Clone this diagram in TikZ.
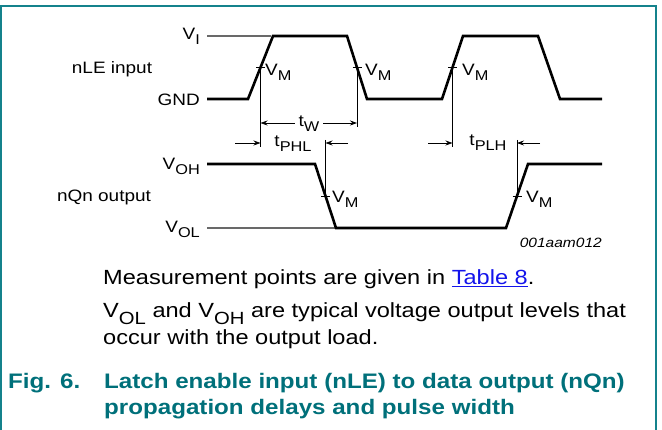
\documentclass[tikz,border=0pt]{standalone}
\usepackage{fontspec}
\usepackage{graphicx}
\setmainfont{Liberation Sans}[FakeStretch=1.15]
\usetikzlibrary{arrows.meta}

\definecolor{frameteal}{RGB}{20,130,140}
\definecolor{capteal}{RGB}{0,112,122}
\definecolor{levelgrey}{RGB}{105,105,105}
\definecolor{linkblue}{RGB}{20,20,235}

\newcommand\lsub[1]{\raisebox{-0.3em}{\scalebox{0.86}{#1}}}
\newcommand\lblfont{\fontsize{16.5}{19}\selectfont}
\newcommand\bodyfont{\fontsize{20.5}{27}\selectfont}
\newcommand\capfont{\fontsize{21}{26}\selectfont\bfseries}

\begin{document}
\begin{tikzpicture}[x=1pt,y=-1pt,
    wave/.style={line width=2.6pt},
    level/.style={draw=levelgrey,line width=1.1pt},
    guide/.style={line width=0.8pt},
    dimarrow/.style={-{Stealth[length=7pt,width=5pt]},line width=0.8pt},
    vmtick/.style={line width=0.8pt}]

  \useasboundingbox (0,0) rectangle (662,430);
  \draw[frameteal,line width=1.6pt] (1,430) -- (1,6) -- (656,6) -- (656,430);

  % VM crossings
  \coordinate (c1) at (260.5,67.5);
  \coordinate (c2) at (357,67.5);
  \coordinate (c3) at (452.5,67.5);
  \coordinate (c4) at (325.5,196);
  \coordinate (c5) at (517,196);

  % levels
  \draw[level] (207,36) -- (271,36);
  \draw[level] (207,228) -- (337,228);

  % waveforms
  \draw[wave] (207,99) -- (248,99) -- (273,36) -- (347,36) -- (367,99)
    -- (442,99) -- (463,36) -- (538,36) -- (560,99) -- (602,99);
  \draw[wave] (207,164) -- (315,164) -- (336,228) -- (506,228)
    -- (528,164) -- (602,164);

  \foreach \c in {c1,c2,c3,c4,c5}
    \draw[vmtick] ([xshift=-4.5pt]\c) -- ([xshift=4.5pt]\c);

  % guide lines
  \coordinate (g1) at (260.5,147);
  \coordinate (g2) at (357,127);
  \coordinate (g3) at (452.5,147);
  \coordinate (g4) at (325.5,140);
  \coordinate (g5) at (517,140);
  \draw[guide] (c1) -- (g1);
  \draw[guide] (c2) -- (g2);
  \draw[guide] (c3) -- (g3);
  \draw[guide] (g4) -- (c4);
  \draw[guide] (g5) -- (c5);

  % dimension arrows
  \coordinate (tw1) at (260.5,123);
  \coordinate (tw2) at (357,123);
  \coordinate (phl1) at (235,143);
  \coordinate (phl2) at (260.5,143);
  \coordinate (phl3) at (348,143);
  \coordinate (phl4) at (325.5,143);
  \coordinate (plh1) at (428,143);
  \coordinate (plh2) at (452.5,143);
  \coordinate (plh3) at (540,143);
  \coordinate (plh4) at (517,143);

  \draw[dimarrow,{Stealth[length=7pt,width=5pt]}-{Stealth[length=7pt,width=5pt]}]
    (tw1) -- (tw2);
  \draw[dimarrow] (phl1) -- (phl2);
  \draw[dimarrow] (phl3) -- (phl4);
  \draw[dimarrow] (plh1) -- (plh2);
  \draw[dimarrow] (plh3) -- (plh4);

  \begin{scope}[every node/.style={inner sep=0pt,font=\lblfont}]
    \node[anchor=base east] (vi)  at (200,40)  {V\lsub{I}};
    \node[anchor=base]      (nle) at (112,74)  {nLE input};
    \node[anchor=base east] (gnd) at (200,106) {GND};
    \node[anchor=base east] (voh) at (200,170) {V\lsub{OH}};
    \node[anchor=base]      (nqn) at (104,202) {nQn output};
    \node[anchor=base east] (vol) at (200,233) {V\lsub{OL}};

    \node[anchor=base west] (vm1) at (265,76)  {V\lsub{M}};
    \node[anchor=base west] (vm2) at (365,76)  {V\lsub{M}};
    \node[anchor=base west] (vm3) at (462,76)  {V\lsub{M}};
    \node[anchor=base west] (vm4) at (332,203) {V\lsub{M}};
    \node[anchor=base west] (vm5) at (526,203) {V\lsub{M}};

    \node[anchor=base,fill=white,inner xsep=4pt] (tw) at (309,127) {t\lsub{W}};
    \node[anchor=base] (tphl) at (293,147) {t\lsub{PHL}};
    \node[anchor=base] (tplh) at (488,146) {t\lsub{PLH}};

    \node[anchor=base east,font=\fontsize{13.5}{16}\selectfont\itshape]
      (code) at (602,248) {001aam012};
  \end{scope}

  \begin{scope}[every node/.style={inner sep=0pt,anchor=base west,font=\bodyfont}]
    \node (note1) at (103,285)
      {Measurement points are given in \textcolor{linkblue}{\underline{Table 8}}.};
    \node (note2) at (103,318)
      {V\lsub{OL} and V\lsub{OH} are typical voltage output levels that};
    \node (note3) at (103,345) {occur with the output load.};
  \end{scope}

  \begin{scope}[every node/.style={inner sep=0pt,anchor=base west,
      font=\capfont,text=capteal}]
    \node (fig)  at (8,389)   {Fig. 6.};
    \node (cap1) at (104,389) {Latch enable input (nLE) to data output (nQn)};
    \node (cap2) at (104,415) {propagation delays and pulse width};
  \end{scope}

\end{tikzpicture}
\end{document}
